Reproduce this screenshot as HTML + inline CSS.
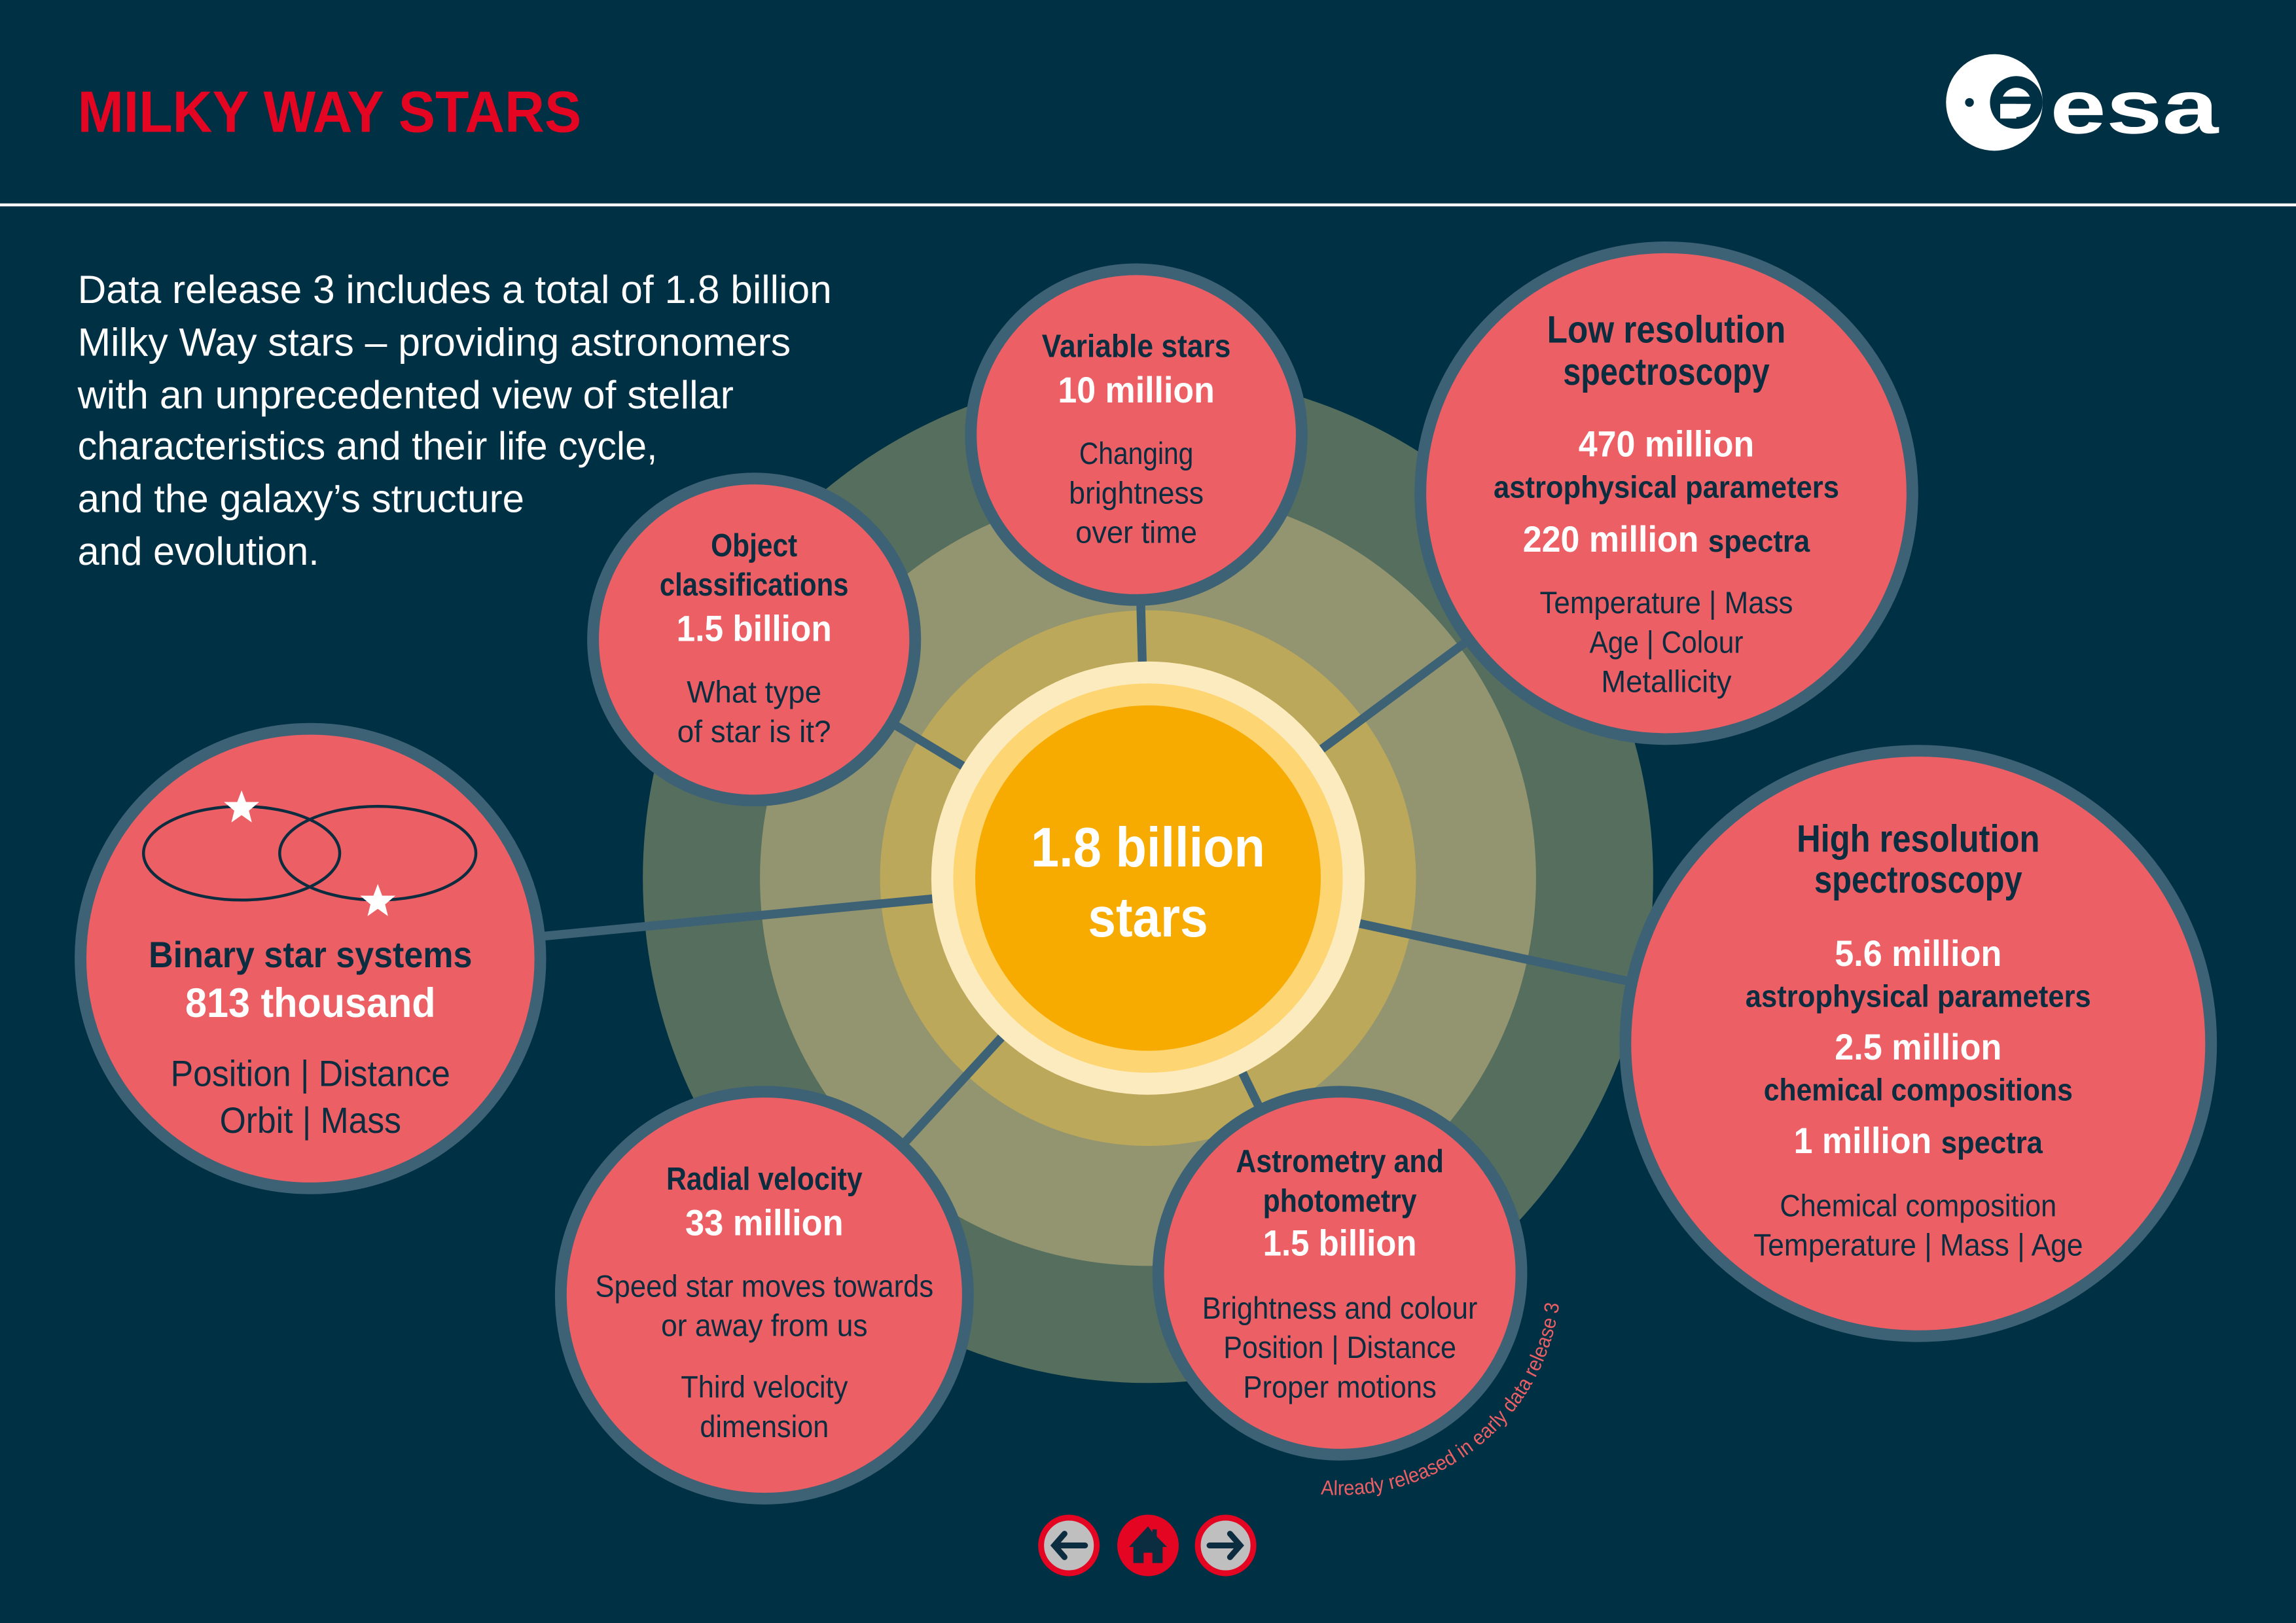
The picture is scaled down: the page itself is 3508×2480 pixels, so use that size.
<!DOCTYPE html>
<html><head><meta charset="utf-8"><style>
html,body{margin:0;padding:0;background:#003044;}
svg{display:block;}
text{font-family:"Liberation Sans Narrow","Liberation Sans",sans-serif;}
.d{fill:#0c2d40;}
.w{fill:#ffffff;}
.b{font-weight:bold;}
</style></head><body>
<svg width="3508" height="2480" viewBox="0 0 1568 1109" preserveAspectRatio="none" xmlns="http://www.w3.org/2000/svg">
<rect x="0" y="0" width="1568" height="1109" fill="#003044"/>
<text x="53" y="90" font-size="40" font-weight="bold" fill="#e30521" textLength="344" lengthAdjust="spacingAndGlyphs">MILKY WAY STARS</text>
<g>
<circle cx="1362" cy="70" r="33" fill="#ffffff"/>
<circle cx="1377" cy="70" r="18" fill="#003044"/>
<circle cx="1377" cy="70" r="10" fill="#ffffff"/>
<rect x="1366" y="66" width="24" height="5" fill="#003044"/>
<rect x="1366" y="71" width="11" height="10" fill="#ffffff"/>
<circle cx="1345" cy="70" r="3" fill="#003044"/>
<text x="1400" y="91" font-size="52" font-weight="bold" fill="#ffffff" textLength="115" lengthAdjust="spacingAndGlyphs">esa</text>
</g>
<rect x="0" y="139" width="1568" height="2" fill="#ffffff"/>
<g font-size="27" fill="#ffffff">
<text x="53" y="207" textLength="515" lengthAdjust="spacingAndGlyphs">Data release 3 includes a total of 1.8 billion</text>
<text x="53" y="243" textLength="487" lengthAdjust="spacingAndGlyphs">Milky Way stars – providing astronomers</text>
<text x="53" y="279" textLength="448" lengthAdjust="spacingAndGlyphs">with an unprecedented view of stellar</text>
<text x="53" y="314" textLength="396" lengthAdjust="spacingAndGlyphs">characteristics and their life cycle,</text>
<text x="53" y="350" textLength="305" lengthAdjust="spacingAndGlyphs">and the galaxy’s structure</text>
<text x="53" y="386" textLength="165" lengthAdjust="spacingAndGlyphs">and evolution.</text>
</g>
<g>
<circle cx="784" cy="600" r="345" fill="#566e5e"/>
<circle cx="784" cy="600" r="265" fill="#939570"/>
<circle cx="784" cy="600" r="183" fill="#bca85a"/>
</g>
<g stroke="#3e6275" stroke-width="6">
<line x1="784" y1="600" x2="776" y2="297"/>
<line x1="784" y1="600" x2="1138" y2="337"/>
<line x1="784" y1="600" x2="515" y2="437"/>
<line x1="784" y1="600" x2="212" y2="655"/>
<line x1="784" y1="600" x2="1310" y2="713"/>
<line x1="784" y1="600" x2="522" y2="885"/>
<line x1="784" y1="600" x2="915" y2="870"/>
</g>
<g>
<circle cx="784" cy="600" r="148" fill="#fdebc0"/>
<circle cx="784" cy="600" r="133" fill="#fdd572"/>
<circle cx="784" cy="600" r="118" fill="#f7ab00"/>
<text x="784" y="592" text-anchor="middle" font-size="38" class="w b" textLength="160" lengthAdjust="spacingAndGlyphs">1.8 billion</text>
<text x="784" y="640" text-anchor="middle" font-size="38" class="w b" textLength="82" lengthAdjust="spacingAndGlyphs">stars</text>
</g>
<g fill="#ec5f65" stroke="#3e6275" stroke-width="8">
<circle cx="776" cy="297" r="113"/>
<circle cx="1138" cy="337" r="168"/>
<circle cx="515" cy="437" r="110"/>
<circle cx="212" cy="655" r="157"/>
<circle cx="1310" cy="713" r="200"/>
<circle cx="522" cy="885" r="139"/>
<circle cx="915" cy="870" r="124"/>
</g>
<g text-anchor="middle">
<text x="776" y="244" font-size="22" class="d b" textLength="129" lengthAdjust="spacingAndGlyphs">Variable stars</text>
<text x="776" y="275" font-size="25" class="w b" textLength="107" lengthAdjust="spacingAndGlyphs">10 million</text>
<text x="776" y="317" font-size="21" class="d" textLength="78" lengthAdjust="spacingAndGlyphs">Changing</text>
<text x="776" y="344" font-size="21" class="d" textLength="92" lengthAdjust="spacingAndGlyphs">brightness</text>
<text x="776" y="371" font-size="21" class="d" textLength="83" lengthAdjust="spacingAndGlyphs">over time</text>
</g>
<g text-anchor="middle">
<text x="515" y="380" font-size="22" class="d b" textLength="59" lengthAdjust="spacingAndGlyphs">Object</text>
<text x="515" y="407" font-size="22" class="d b" textLength="129" lengthAdjust="spacingAndGlyphs">classifications</text>
<text x="515" y="438" font-size="25" class="w b" textLength="106" lengthAdjust="spacingAndGlyphs">1.5 billion</text>
<text x="515" y="480" font-size="21" class="d" textLength="92" lengthAdjust="spacingAndGlyphs">What type</text>
<text x="515" y="507" font-size="21" class="d" textLength="105" lengthAdjust="spacingAndGlyphs">of star is it?</text>
</g>
<g text-anchor="middle">
<text x="1138" y="234" font-size="26" class="d b" textLength="163" lengthAdjust="spacingAndGlyphs">Low resolution</text>
<text x="1138" y="263" font-size="26" class="d b" textLength="141" lengthAdjust="spacingAndGlyphs">spectroscopy</text>
<text x="1138" y="312" font-size="25" class="w b" textLength="120" lengthAdjust="spacingAndGlyphs">470 million</text>
<text x="1138" y="340" font-size="21" class="d b" textLength="236" lengthAdjust="spacingAndGlyphs">astrophysical parameters</text>
<text x="1138" y="377" font-size="25" class="w b" textLength="196" lengthAdjust="spacingAndGlyphs">220 million <tspan font-size="21" class="d">spectra</tspan></text>
<text x="1138" y="419" font-size="21" class="d" textLength="173" lengthAdjust="spacingAndGlyphs">Temperature | Mass</text>
<text x="1138" y="446" font-size="21" class="d" textLength="105" lengthAdjust="spacingAndGlyphs">Age | Colour</text>
<text x="1138" y="473" font-size="21" class="d" textLength="89" lengthAdjust="spacingAndGlyphs">Metallicity</text>
</g>
<g>
<ellipse cx="165" cy="583" rx="67" ry="32" fill="none" stroke="#0c2d40" stroke-width="2"/>
<ellipse cx="258" cy="583" rx="67" ry="32" fill="none" stroke="#0c2d40" stroke-width="2"/>
<polygon points="165,540 168,548 177,548 170,554 172,562 165,557 158,562 160,554 153,548 162,548" fill="#ffffff"/>
<polygon points="258,604 261,612 270,612 263,618 265,626 258,621 251,626 253,618 246,612 255,612" fill="#ffffff"/>
</g>
<g text-anchor="middle">
<text x="212" y="661" font-size="25" class="d b" textLength="221" lengthAdjust="spacingAndGlyphs">Binary star systems</text>
<text x="212" y="695" font-size="28" class="w b" textLength="171" lengthAdjust="spacingAndGlyphs">813 thousand</text>
<text x="212" y="742" font-size="25" class="d" textLength="191" lengthAdjust="spacingAndGlyphs">Position | Distance</text>
<text x="212" y="774" font-size="25" class="d" textLength="124" lengthAdjust="spacingAndGlyphs">Orbit | Mass</text>
</g>
<g text-anchor="middle">
<text x="1310" y="582" font-size="26" class="d b" textLength="166" lengthAdjust="spacingAndGlyphs">High resolution</text>
<text x="1310" y="610" font-size="26" class="d b" textLength="142" lengthAdjust="spacingAndGlyphs">spectroscopy</text>
<text x="1310" y="660" font-size="25" class="w b" textLength="114" lengthAdjust="spacingAndGlyphs">5.6 million</text>
<text x="1310" y="688" font-size="21" class="d b" textLength="236" lengthAdjust="spacingAndGlyphs">astrophysical parameters</text>
<text x="1310" y="724" font-size="25" class="w b" textLength="114" lengthAdjust="spacingAndGlyphs">2.5 million</text>
<text x="1310" y="752" font-size="21" class="d b" textLength="211" lengthAdjust="spacingAndGlyphs">chemical compositions</text>
<text x="1310" y="788" font-size="25" class="w b" textLength="170" lengthAdjust="spacingAndGlyphs">1 million <tspan font-size="21" class="d">spectra</tspan></text>
<text x="1310" y="831" font-size="21" class="d" textLength="189" lengthAdjust="spacingAndGlyphs">Chemical composition</text>
<text x="1310" y="858" font-size="21" class="d" textLength="225" lengthAdjust="spacingAndGlyphs">Temperature | Mass | Age</text>
</g>
<g text-anchor="middle">
<text x="522" y="813" font-size="22" class="d b" textLength="134" lengthAdjust="spacingAndGlyphs">Radial velocity</text>
<text x="522" y="844" font-size="25" class="w b" textLength="108" lengthAdjust="spacingAndGlyphs">33 million</text>
<text x="522" y="886" font-size="21" class="d" textLength="231" lengthAdjust="spacingAndGlyphs">Speed star moves towards</text>
<text x="522" y="913" font-size="21" class="d" textLength="141" lengthAdjust="spacingAndGlyphs">or away from us</text>
<text x="522" y="955" font-size="21" class="d" textLength="114" lengthAdjust="spacingAndGlyphs">Third velocity</text>
<text x="522" y="982" font-size="21" class="d" textLength="88" lengthAdjust="spacingAndGlyphs">dimension</text>
</g>
<g text-anchor="middle">
<text x="915" y="801" font-size="22" class="d b" textLength="142" lengthAdjust="spacingAndGlyphs">Astrometry and</text>
<text x="915" y="828" font-size="22" class="d b" textLength="105" lengthAdjust="spacingAndGlyphs">photometry</text>
<text x="915" y="858" font-size="25" class="w b" textLength="105" lengthAdjust="spacingAndGlyphs">1.5 billion</text>
<text x="915" y="901" font-size="21" class="d" textLength="188" lengthAdjust="spacingAndGlyphs">Brightness and colour</text>
<text x="915" y="928" font-size="21" class="d" textLength="159" lengthAdjust="spacingAndGlyphs">Position | Distance</text>
<text x="915" y="955" font-size="21" class="d" textLength="132" lengthAdjust="spacingAndGlyphs">Proper motions</text>
</g>
<path id="arcpath" d="M 902 1021 A 151 151 0 0 0 1066 862" fill="none"/>
<text font-size="14" fill="#ec5f65"><textPath href="#arcpath" textLength="230" lengthAdjust="spacingAndGlyphs">Already released in early data release 3</textPath></text>
<g>
<circle cx="730" cy="1056" r="19" fill="#bfbfbf" stroke="#e30521" stroke-width="4"/>
<path d="M741 1056 H720 M727 1048 L720 1056 L727 1064" stroke="#0c2d40" stroke-width="4" fill="none" stroke-linecap="round"/>
</g>
<g>
<circle cx="784" cy="1056" r="21" fill="#e30521"/>
<polygon points="784,1043 771,1057 774,1057 774,1068 781,1068 781,1061 787,1061 787,1068 794,1068 794,1057 797,1057 790,1050 790,1045 787,1045 787,1047" fill="#0c2d40"/>
</g>
<g>
<circle cx="837" cy="1056" r="19" fill="#bfbfbf" stroke="#e30521" stroke-width="4"/>
<path d="M826 1056 H847 M840 1048 L847 1056 L840 1064" stroke="#0c2d40" stroke-width="4" fill="none" stroke-linecap="round"/>
</g>
</svg>
</body></html>
